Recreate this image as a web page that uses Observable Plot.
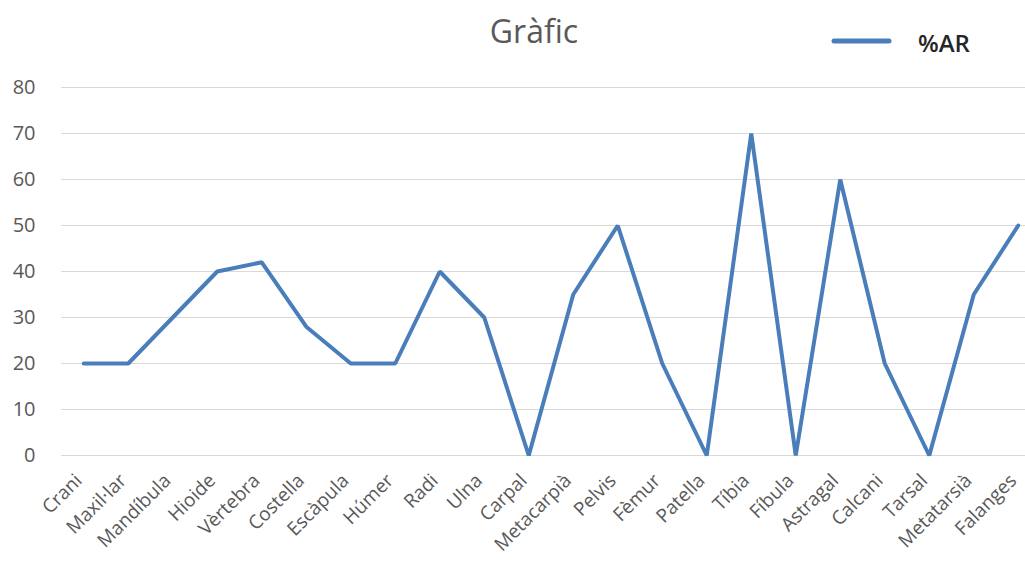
<!DOCTYPE html>
<html><head><meta charset="utf-8">
<script src="https://cdn.jsdelivr.net/npm/d3@7"></script>
<script src="https://cdn.jsdelivr.net/npm/@observablehq/plot@0.6"></script>
<style>
body{margin:0;background:#fff;font-family:"Open Sans",sans-serif;}
#wrap{position:relative;width:1025px;height:562px;overflow:hidden;}
#overlay{position:absolute;left:0;top:0;pointer-events:none;}
#chart{position:absolute;left:0;top:0;}
</style></head><body>
<div id="wrap"><div id="chart"></div>
<svg id="overlay" width="1025" height="80" font-family="'Open Sans', sans-serif">
  <text x="534" y="43" text-anchor="middle" font-size="32" fill="#595959">Gràfic</text>
  <line x1="834" x2="889" y1="41" y2="41" stroke="#4a7ebb" stroke-width="5" stroke-linecap="round"/>
  <text x="918" y="52" font-size="24" font-weight="600" fill="#262626">%AR</text>
</svg></div>
<script>
const categories = ["Crani","Maxil·lar","Mandíbula","Hioide","Vèrtebra","Costella","Escàpula","Húmer","Radi","Ulna","Carpal","Metacarpià","Pelvis","Fèmur","Patella","Tíbia","Fíbula","Astragal","Calcani","Tarsal","Metatarsià","Falanges"];
const values = [20,20,30,40,42,28,20,20,40,30,0,35,50,20,0,70,0,60,20,0,35,50];
const yTicks = [0,10,20,30,40,50,60,70,80];
const data = categories.map((c,i)=>({cat:c,val:values[i]}));
const chart = Plot.plot({
  width:1025, height:562,
  marginTop:87, marginBottom:107, marginLeft:61, marginRight:-15,
  style:{fontFamily:"'Open Sans', sans-serif", color:"#595959", background:"transparent"},
  x:{type:"point", domain:categories, padding:0.5, round:false, label:null},
  y:{domain:[0,80], ticks:yTicks, label:null},
  marks:[
    Plot.gridY(yTicks,{stroke:"#d9d9d9", strokeOpacity:1}),
    Plot.axisY({ticks:yTicks, tickSize:0, tickPadding:26, fontSize:20, fill:"#595959"}),
    Plot.axisX({tickSize:0, tickPadding:22, tickRotate:-45, fontSize:19, fill:"#595959", dx:-5}),
    Plot.line(data,{x:"cat", y:"val", stroke:"#4a7ebb", strokeWidth:4, strokeLinejoin:"miter", strokeLinecap:"round"})
  ]
});
document.getElementById("chart").appendChild(chart);
</script>
</body></html>
